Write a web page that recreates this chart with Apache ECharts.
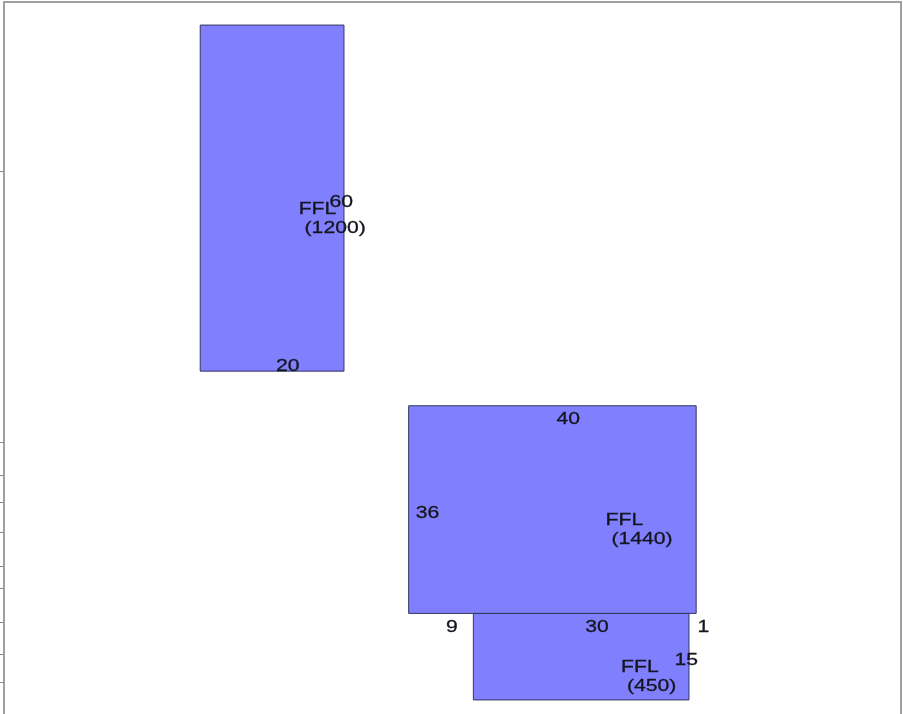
<!DOCTYPE html>
<html>
<head>
<meta charset="utf-8">
<style>html,body{margin:0;padding:0;background:#fff;}#c{width:903px;height:714px;}</style>
<script src="https://cdn.jsdelivr.net/npm/echarts@6/dist/echarts.min.js"></script>
</head>
<body>
<div id="c"></div>
<script>
// Room rectangles (plan units)
const roomX = [27.3, 56.3, 65.3];
const roomY = [4, 70, 106];
const roomW = [20, 40, 30];
const roomH = [60, 36, 15];
const roomFFL = [1200, 1440, 450];
const widthLabelSide = ['bottom', 'top', 'top'];
const heightLabelSide = ['right', 'left', 'right'];
// pairs [upper room, lower room] whose side gaps are dimensioned
const gapPairs = [[1, 2]];
// left axis tick values
const yTicks = [29.3, 76.4, 82.0, 86.8, 92.0, 97.8, 101.6, 107.6, 113.0, 118.0];

const data = roomX.map((x, i) => [x, roomY[i], roomW[i], roomH[i], roomFFL[i], i]);

const FONT = '17px "Liberation Sans", Arial, sans-serif';
const SX = 1.245;
const TXT = '#151520';
const DY = 2;
function label(x, y, text, va) {
  return { type: 'text', x: x, y: y + DY, scaleX: SX, silent: true,
    style: { x: 0, y: 0, text: text, font: FONT, fill: TXT, stroke: TXT, lineWidth: 0.3, align: 'left', verticalAlign: va || 'middle' } };
}

const chart = echarts.init(document.getElementById('c'), null, { renderer: 'canvas' });
chart.setOption({
  animation: false,
  backgroundColor: '#fff',
  grid: { left: 4, top: 2, width: 897, height: 721, outerBoundsMode: 'none', containLabel: false,
    show: true, borderColor: '#a0a0a0', borderWidth: 2, backgroundColor: 'transparent' },
  xAxis: { type: 'value', min: 0, max: 124.8, show: false },
  yAxis: { type: 'value', min: 0, max: 125, inverse: true,
    axisLine: { show: true, lineStyle: { color: '#a0a0a0', width: 2 } },
    axisTick: { show: true, length: 4, inside: false, customValues: yTicks, lineStyle: { color: '#8a8a8a', width: 1 } },
    axisLabel: { show: false }, splitLine: { show: false } },
  series: [{
    type: 'custom',
    data: data,
    encode: { x: 0, y: 1 },
    clip: false,
    renderItem: function (params, api) {
      const i = api.value(5);
      const x = api.value(0), y = api.value(1), w = api.value(2), h = api.value(3);
      const p0 = api.coord([x, y]);
      const p1 = api.coord([x + w, y + h]);
      const L = p0[0], T = p0[1], R = p1[0], B = p1[1];
      const cx = (L + R) / 2, cy = (T + B) / 2;
      const children = [{
        type: 'rect', shape: { x: L, y: T, width: R - L, height: B - T },
        style: { fill: '#8080ff', stroke: '#353560', lineWidth: 1 }
      }];
      // width dimension
      if (widthLabelSide[i] === 'bottom') children.push(label(cx + 4, B - 7, String(w)));
      else children.push(label(cx + 4, T + 12, String(w)));
      // height dimension
      if (heightLabelSide[i] === 'right') children.push(label(R - 14.5, cy + 2, String(h)));
      else children.push(label(L + 7, cy + 2, String(h)));
      // FFL label
      const f = label(L + 0.685 * (R - L), cy - 0.5, 'FFL\n (' + api.value(4) + ')', 'top');
      f.style.lineHeight = 19;
      children.push(f);
      // gap dimensions
      gapPairs.forEach(function (pr) {
        if (pr[1] !== i) return;
        const u = pr[0];
        const uL = roomX[u], uR = roomX[u] + roomW[u];
        const leftGap = Math.round((x - uL) * 10) / 10;
        const rightGap = Math.round((uR - (x + w)) * 10) / 10;
        const a = api.coord([uL, y])[0], b = api.coord([uR, y])[0];
        children.push(label((a + L) / 2 + 5, T + 12, String(leftGap)));
        children.push(label((R + b) / 2 + 5, T + 12, String(rightGap)));
      });
      return { type: 'group', children: children };
    }
  }]
});
</script>
</body>
</html>
